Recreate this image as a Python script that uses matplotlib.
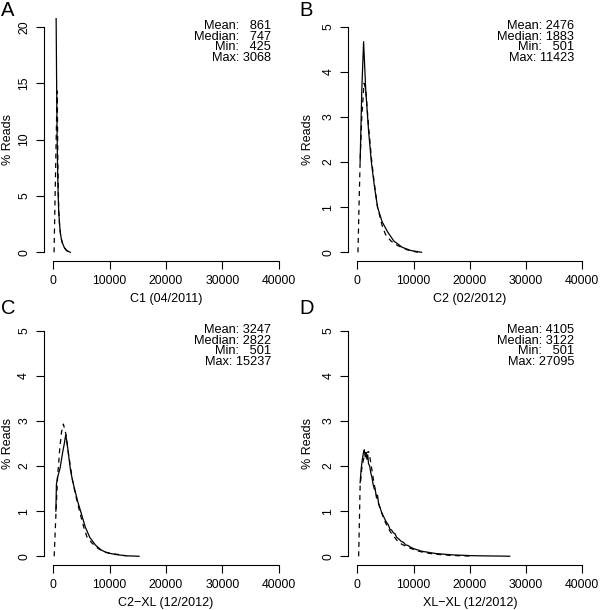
import matplotlib
matplotlib.use('Agg')
import matplotlib.pyplot as plt

plt.rcParams['font.family'] = ['Liberation Sans', 'DejaVu Sans']

# A: C1 (04/2011)
a_solid_x = [530, 620, 700, 800, 900, 1000, 1150, 1300, 1500, 1700, 2000, 2400, 2800, 3068]
a_solid_y = [22, 16, 11, 7.5, 5.2, 3.7, 2.5, 1.7, 1.1, 0.77, 0.42, 0.17, 0.06, 0.0]
a_dash_x = [180, 350, 500, 650, 750, 850, 1000, 1150, 1300, 1500, 1700, 2000, 2400, 2800]
a_dash_y = [0, 4.6, 8.5, 12.5, 14.3, 8.0, 3.8, 2.5, 1.7, 1.1, 0.75, 0.4, 0.15, 0.04]
a_stats = [861, 747, 425, 3068]

# B: C2 (02/2012)
b_solid_x = [501, 800, 1120, 1500, 2000, 2500, 3000, 3600, 4400, 5400, 6500, 8000, 9500, 11423]
b_solid_y = [2.0, 3.6, 4.67, 3.6, 2.7, 2.0, 1.5, 1.0, 0.68, 0.45, 0.25, 0.11, 0.04, 0.0]
b_dash_x = [120, 300, 500, 800, 1200, 1500, 2000, 2500, 3000, 3600, 4400, 5000, 5400, 6000,
            6500, 7200, 8000, 9000, 10000, 10800]
b_dash_y = [0, 1.0, 2.0, 3.0, 3.75, 3.6, 2.8, 2.1, 1.55, 1.0, 0.6, 0.4, 0.33, 0.25,
            0.2, 0.15, 0.1, 0.05, 0.02, 0.0]
b_stats = [2476, 1883, 501, 11423]

# C: C2-XL (12/2012)
c_solid_x = [501, 600, 800, 1240, 1700, 2000, 2240, 2500, 2800, 3100, 3500, 3900, 4400, 5000,
             5700, 6500, 7500, 8500, 9500, 11000, 13000, 15237]
c_solid_y = [1.0, 1.6, 1.75, 1.95, 2.3, 2.5, 2.69, 2.5, 2.2, 1.9, 1.65, 1.45, 1.2, 0.95,
             0.65, 0.42, 0.25, 0.14, 0.08, 0.04, 0.01, 0.0]
c_dash_x = [200, 500, 800, 1200, 1500, 1830, 2300, 2700, 3000, 3500, 4000, 4500, 5000, 5500,
            6000, 6500, 7000, 8000, 9000, 10000, 11000, 12000, 13000]
c_dash_y = [0, 0.9, 1.75, 2.4, 2.75, 2.93, 2.7, 2.3, 2.05, 1.65, 1.35, 1.1, 0.85, 0.62,
            0.43, 0.35, 0.28, 0.17, 0.1, 0.07, 0.05, 0.03, 0.01]
c_stats = [3247, 2822, 501, 15237]

# D: XL-XL (12/2012)
d_solid_x = [501, 700, 900, 1100, 1250, 1400, 1550, 1700, 1850, 2000, 2200, 2400, 2600, 2800,
             3000, 3200, 3400, 3600, 3800, 4000, 4300, 4600, 4900, 5200, 5500, 5800, 6100,
             6400, 6700, 7000, 7400, 7800, 8200, 8600, 9000, 9500, 10000, 10500, 11000,
             11500, 12000, 13000, 14000, 15000, 16000, 17000, 18000, 19000, 20000, 21000,
             22000, 23000, 24000, 25000, 26000, 27095]
d_solid_y = [1.63, 1.95, 2.15, 2.3, 2.36, 2.2, 2.3, 2.15, 2.25, 2.05, 2.0, 1.85, 1.75, 1.6,
             1.5, 1.47, 1.3, 1.35, 1.15, 1.1, 0.98, 0.9, 0.82, 0.75, 0.7, 0.6, 0.58,
             0.52, 0.5, 0.42, 0.38, 0.33, 0.31, 0.25, 0.24, 0.2, 0.17, 0.15, 0.13,
             0.11, 0.1, 0.08, 0.06, 0.05, 0.04, 0.03, 0.025, 0.02, 0.015, 0.012,
             0.01, 0.008, 0.006, 0.005, 0.003, 0.0]
d_dash_x = [240, 500, 800, 1100, 1400, 1700, 2000, 2300, 2600, 3000, 3500, 4000, 4500, 5000,
            5500, 6000, 6500, 7000, 7500, 8000, 9000, 10000, 11000, 12000, 13000, 14000,
            15000, 16000, 17000, 18000, 20000]
d_dash_y = [0.0, 1.55, 1.95, 2.15, 2.25, 2.3, 2.32, 2.15, 1.91, 1.6, 1.3, 1.08, 0.9, 0.75,
            0.62, 0.52, 0.44, 0.36, 0.3, 0.26, 0.2, 0.15, 0.11, 0.08, 0.06, 0.045,
            0.035, 0.025, 0.018, 0.012, 0.005]
d_stats = [4105, 3122, 501, 27095]

stat_names = ['Mean', 'Median', 'Min', 'Max']
panel_letters = ['A', 'B', 'C', 'D']
x_labels = ['C1 (04/2011)', 'C2 (02/2012)', 'C2\u2212XL (12/2012)', 'XL\u2212XL (12/2012)']
x_ticks = [0, 10000, 20000, 30000, 40000]
y_tops = [20, 5, 5, 5]
y_steps = [5, 1, 1, 1]


def stat_line(name, value):
    # R-style padding: numbers right-aligned in a 4-digit column
    digits = str(value)
    pad = '\u2007' * max(0, 4 - len(digits))
    return '%s: %s%s' % (name, pad, digits)


def draw_panel(ax, solid, dashed, stats, xlabel, ytop, ystep, label_x):
    ax.plot(solid[0], solid[1], color='black', lw=0.9)
    ax.plot(dashed[0], dashed[1], color='black', lw=0.9, linestyle=(0, (4, 3.5)))
    ax.set_xlim(-0.04 * 40000, 1.04 * 40000)
    ax.set_ylim(-0.04 * ytop, 1.04 * ytop)
    ax.set_xticks(x_ticks)
    ax.set_yticks(list(range(0, ytop + 1, ystep)))
    for side in ('top', 'right'):
        ax.spines[side].set_visible(False)
    ax.spines['bottom'].set_bounds(0, 40000)
    ax.spines['left'].set_bounds(0, ytop)
    for side in ('bottom', 'left'):
        ax.spines[side].set_linewidth(0.8)
    ax.tick_params(direction='out', length=5.5, width=0.8, pad=4.5, labelsize=8.8)
    ax.tick_params(axis='y', labelrotation=90)
    for lab in ax.get_yticklabels():
        lab.set_va('center')
    ax.set_xlabel(xlabel, fontsize=9, va='center')
    ax.xaxis.set_label_coords(0.5, -0.155)
    ax.set_ylabel('% Reads', fontsize=9, va='center')
    ax.yaxis.set_label_coords(label_x, 0.5)
    for i, (name, value) in enumerate(zip(stat_names, stats)):
        ax.text(0.93, 0.955 - i * 0.0445, stat_line(name, value), transform=ax.transAxes,
                ha='right', va='baseline', fontsize=9.2)


def main():
    fig = plt.figure(figsize=(6, 6.1), dpi=100)
    rects = [
        (44 / 600, 0.5716, 244 / 600, 0.3993),
        (348.3 / 600, 0.5716, 243 / 600, 0.3993),
        (44 / 600, 0.0733, 244 / 600, 0.3993),
        (348.3 / 600, 0.0733, 243 / 600, 0.3993),
    ]
    label_xs = [-0.148, -0.165, -0.148, -0.165]
    data = [
        ((a_solid_x, a_solid_y), (a_dash_x, a_dash_y), a_stats),
        ((b_solid_x, b_solid_y), (b_dash_x, b_dash_y), b_stats),
        ((c_solid_x, c_solid_y), (c_dash_x, c_dash_y), c_stats),
        ((d_solid_x, d_solid_y), (d_dash_x, d_dash_y), d_stats),
    ]
    letter_pos = [(1 / 600, 1 - 1 / 610), (299 / 600, 1 - 1 / 610),
                  (1 / 600, 1 - 299 / 610), (299 / 600, 1 - 299 / 610)]
    for i in range(4):
        ax = fig.add_axes(rects[i])
        solid, dashed, stats = data[i]
        draw_panel(ax, solid, dashed, stats, x_labels[i], y_tops[i], y_steps[i], label_xs[i])
        fig.text(letter_pos[i][0], letter_pos[i][1], panel_letters[i],
                 fontsize=14.5, ha='left', va='top')
    fig.savefig('out.png', dpi=100)


if __name__ == '__main__':
    main()
